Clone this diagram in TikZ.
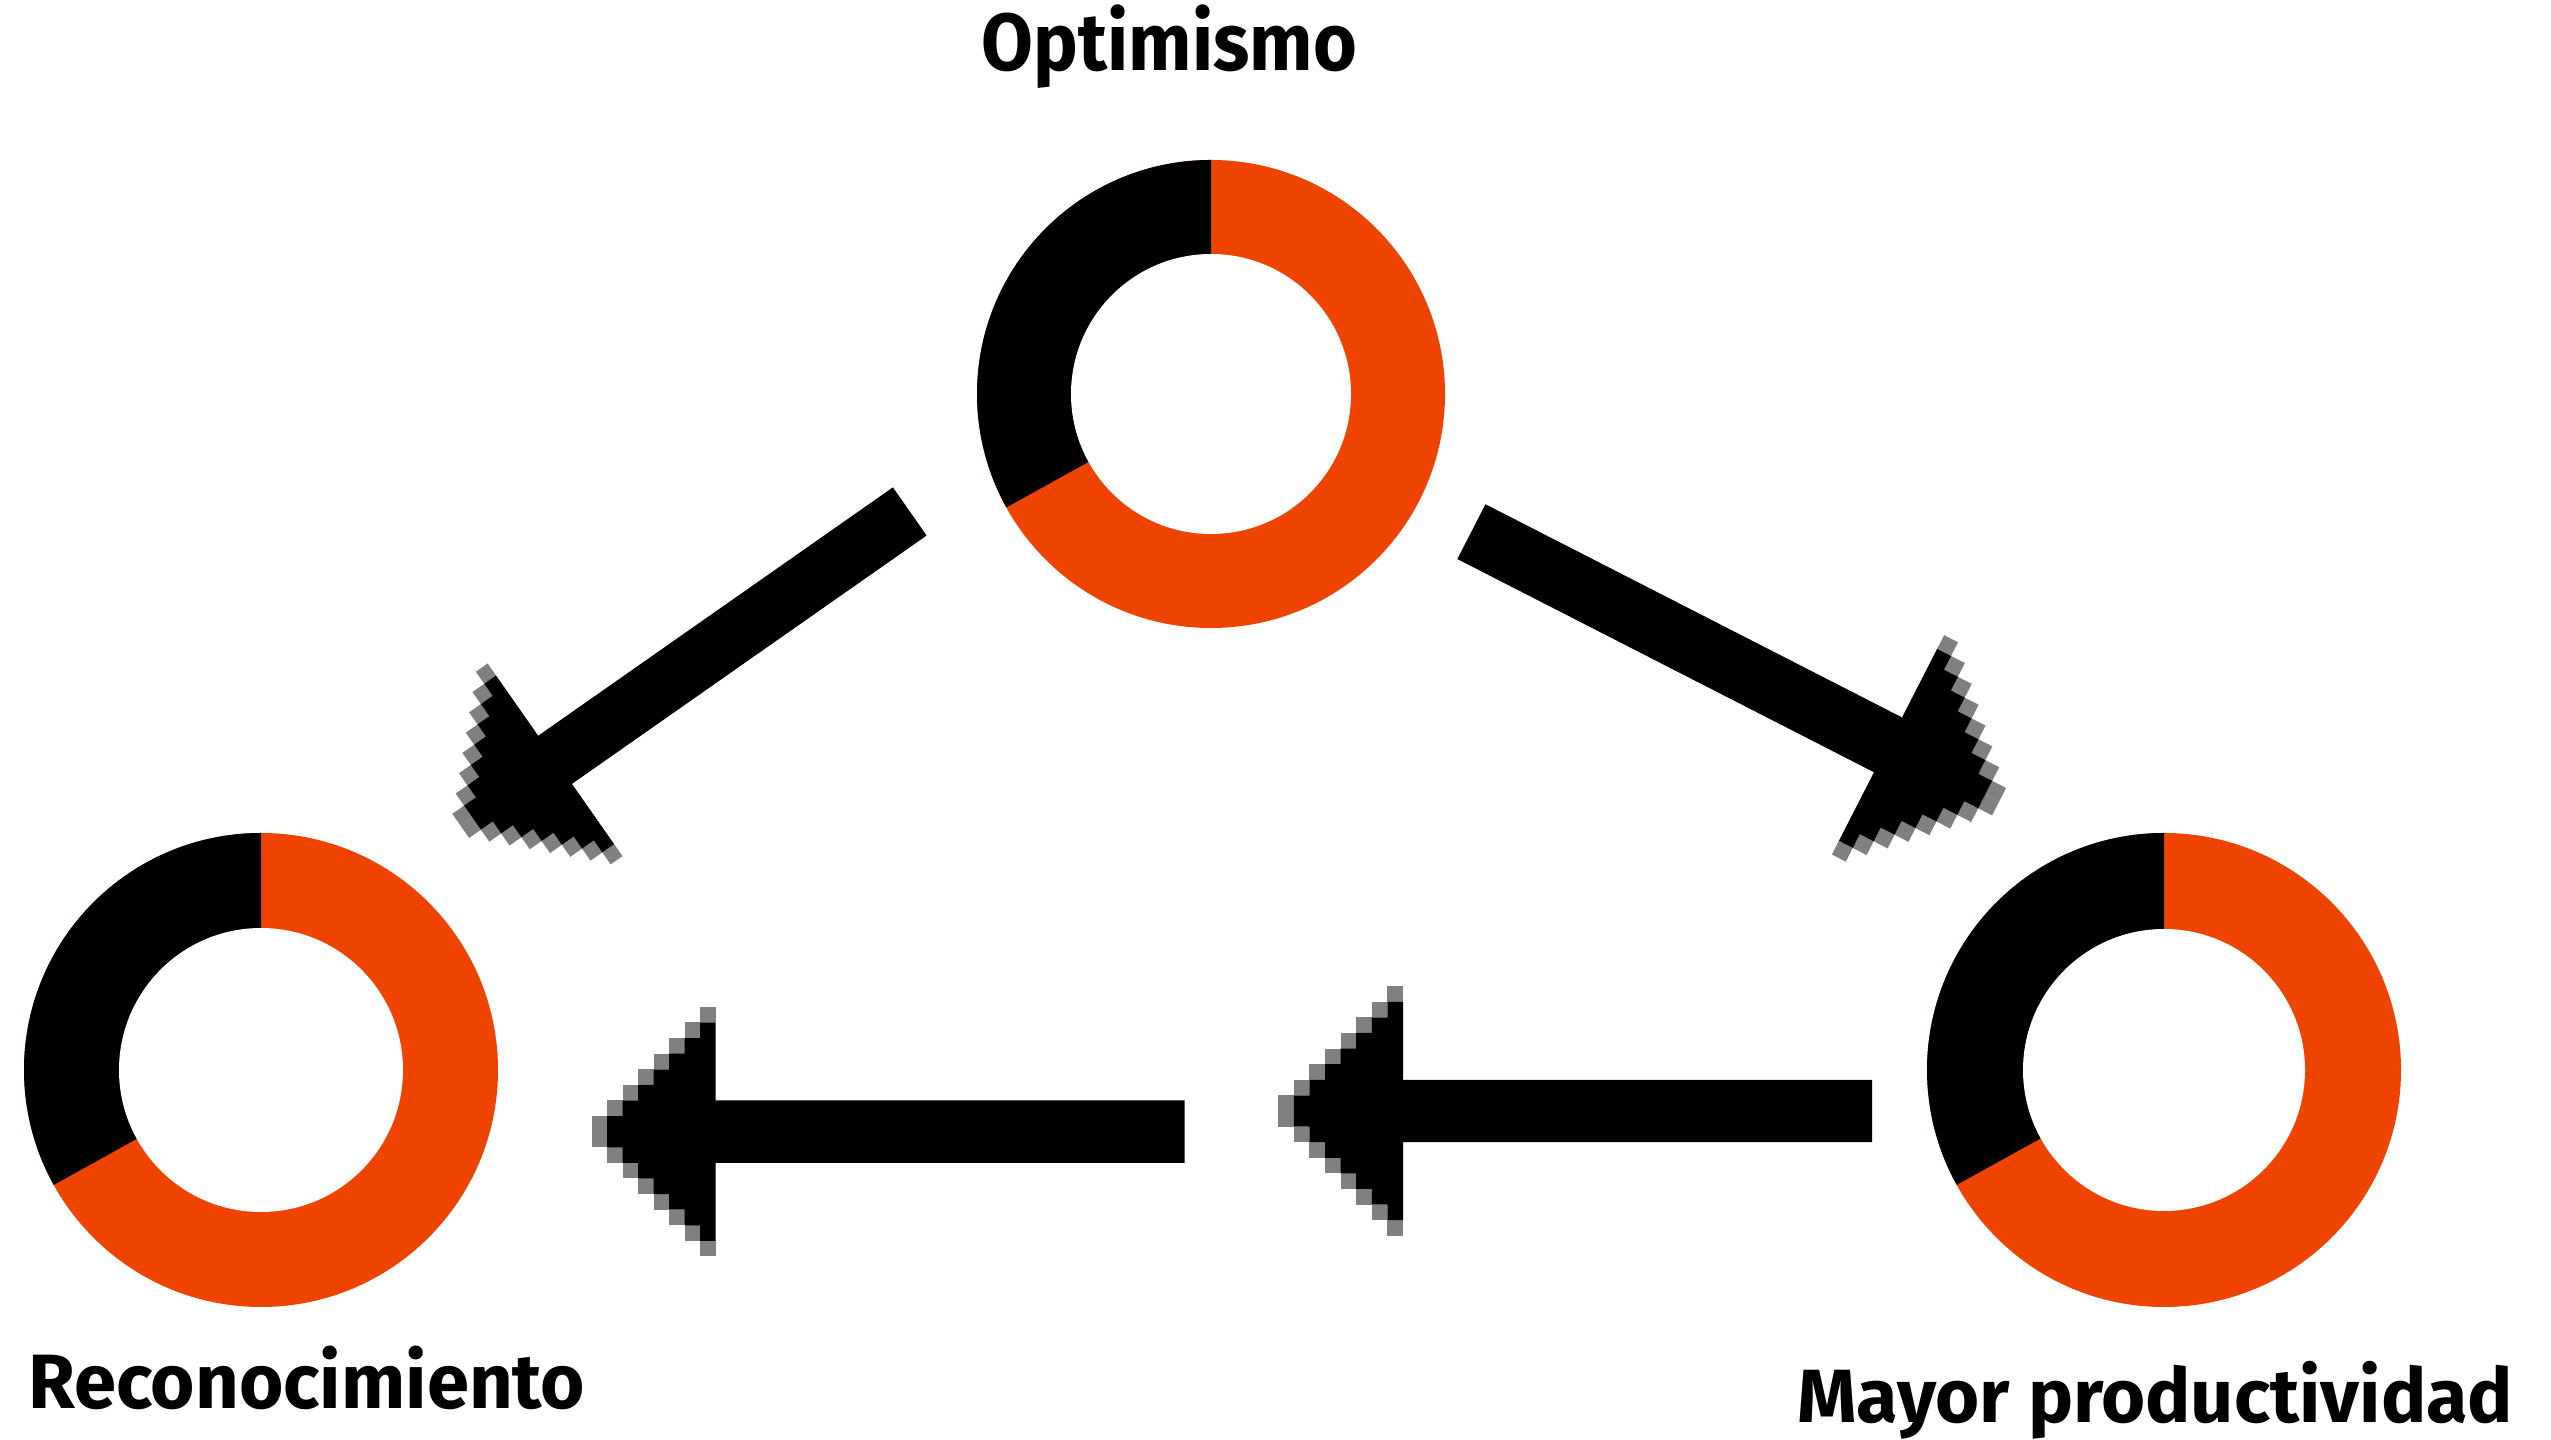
\documentclass[tikz,border=0pt]{standalone}
\usepackage{fontspec}
\usepackage{graphicx}
\setmainfont{Fira Sans}
\definecolor{donutorange}{RGB}{239,67,0}
\definecolor{pixgray}{RGB}{128,128,128}
\tikzset{
  lbl/.style={inner sep=0pt, anchor=base west, text=black},
}
% #1 tip coordinate, #2 rotation, #3 pixel length w, #4 pixel height h, #5 shaft length
\newcommand\pixarrow[5]{%
\begin{scope}[shift={(#1)}, rotate=#2]
  \foreach \k in {0,...,7}{%
    \fill[pixgray] (\k*#3,\k*#4) rectangle ({(\k+1)*#3},{(\k+1)*#4});
    \fill[pixgray] (\k*#3,-\k*#4) rectangle ({(\k+1)*#3},{-(\k+1)*#4});
  }
  \fill[black] (8*#3+#5,2*#4) -- (8*#3,2*#4)
    \foreach \k in {7,...,1}{ -- (\k*#3+#3,\k*#4) -- (\k*#3,\k*#4) }
    \foreach \k in {1,...,7}{ -- (\k*#3,-\k*#4) -- (\k*#3+#3,-\k*#4) }
    -- (8*#3,-2*#4) -- (8*#3+#5,-2*#4) -- cycle;
\end{scope}}
% #1 centre, #2 outer radius, #3 inner radius
\newcommand\donut[3]{%
  \fill[donutorange] (#1) circle[radius=#2];
  \fill[black] (#1) -- ++(90:#2) arc[start angle=90,end angle=209,radius=#2] -- cycle;
  \fill[white] (#1) circle[radius=#3];}
\begin{document}
\begin{tikzpicture}[x=1pt,y=1pt]
\useasboundingbox (0,0) rectangle (2551,1440);
\fill[white] (0,0) rectangle (2551,1440);
% donut centres
\coordinate (opt) at (1211,1046);
\coordinate (rec) at (261,370);
\coordinate (may) at (2164,370);
\donut{opt}{234}{140}
\donut{rec}{237}{142}
\donut{may}{237}{141}
% arrow tips
\coordinate (tipOptRec) at (460.7,614.1);
\coordinate (tipOptMay) at (1999.1,638.3);
\coordinate (tipLeft) at (591.6,308.3);
\coordinate (tipMid) at (1278.2,329);
\pixarrow{tipOptRec}{35}{14.4}{14.7}{433}
\pixarrow{tipOptMay}{152.9}{15.6}{15.4}{468}
\pixarrow{tipLeft}{0}{15.5}{15.6}{469}
\pixarrow{tipMid}{0}{15.6}{15.6}{469}
% labels
\node[lbl, font=\fontsize{81}{90}\selectfont\bfseries] (optlbl) at (981.7,1369.3) {\resizebox{375pt}{\height}{Optimismo}};
\node[lbl, font=\fontsize{77}{90}\selectfont\bfseries] (reclbl) at (28,31.7) {\resizebox{557pt}{\height}{Reconocimiento}};
\node[lbl, font=\fontsize{75.5}{90}\selectfont\bfseries] (maylbl) at (1797,17.3) {\resizebox{716pt}{\height}{Mayor productividad}};
\end{tikzpicture}
\end{document}
